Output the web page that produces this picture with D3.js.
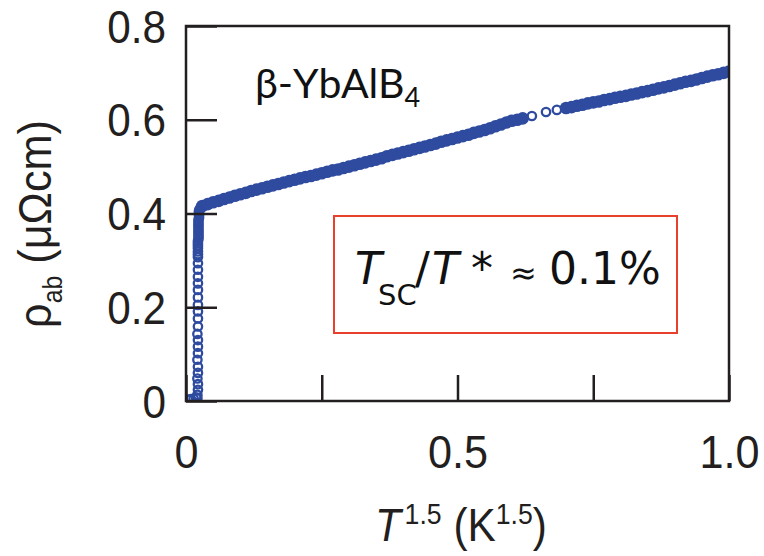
<!DOCTYPE html>
<html>
<head>
<meta charset="utf-8">
<script src="https://cdn.jsdelivr.net/npm/d3@7"></script>
<style>
  body { margin: 0; background: #fff; }
</style>
</head>
<body>
<div id="chart"></div>
<script>
// axis ticks
const xTicks = [0, 0.25, 0.5, 0.75, 1.0];
const xTickText = ["0", "", "0.5", "", "1.0"];
const yTicks = [0, 0.2, 0.4, 0.6, 0.8];
const yTickText = ["0", "0.2", "0.4", "0.6", "0.8"];

// superconducting drop: T^1.5 (K^1.5) and rho_ab (μΩcm)
const tDrop = [0.004, 0.009, 0.014, 0.019,
  0.021, 0.021, 0.022, 0.022, 0.021, 0.022, 0.022, 0.021, 0.022, 0.022,
  0.022, 0.021, 0.022, 0.022, 0.022, 0.022, 0.022, 0.022, 0.022, 0.022,
  0.022, 0.022, 0.022, 0.022, 0.022,
  0.022, 0.022, 0.022, 0.022, 0.023, 0.023, 0.023, 0.023, 0.023,
  0.023, 0.023, 0.023, 0.023, 0.024, 0.024, 0.024, 0.024, 0.024, 0.025, 0.027];
const rhoDrop = [0.003, 0.004, 0.005, 0.007,
  0.006, 0.013, 0.024, 0.036, 0.048, 0.060, 0.073, 0.088, 0.102, 0.116,
  0.130, 0.143, 0.159, 0.176, 0.191, 0.205, 0.221, 0.237, 0.251, 0.265,
  0.280, 0.294, 0.307, 0.313, 0.319,
  0.326, 0.331, 0.336, 0.341, 0.346, 0.351, 0.356, 0.361, 0.366,
  0.371, 0.376, 0.381, 0.386, 0.391, 0.396, 0.400, 0.403, 0.406, 0.409, 0.412];

// normal state, dense band
const tBand = [0.03, 0.04, 0.05, 0.06, 0.07, 0.08, 0.09, 0.10, 0.11, 0.12,
  0.13, 0.14, 0.15, 0.16, 0.17, 0.18, 0.19, 0.20, 0.21, 0.22,
  0.23, 0.24, 0.25, 0.26, 0.27, 0.28, 0.29, 0.30, 0.31, 0.32,
  0.33, 0.34, 0.35, 0.36, 0.37, 0.38, 0.39, 0.40, 0.41, 0.42,
  0.43, 0.44, 0.45, 0.46, 0.47, 0.48, 0.49, 0.50, 0.51, 0.52,
  0.53, 0.54, 0.55, 0.56, 0.57, 0.58, 0.59, 0.60, 0.61, 0.62,
  0.70, 0.71, 0.72, 0.73, 0.74, 0.75, 0.76, 0.77, 0.78, 0.79,
  0.80, 0.81, 0.82, 0.83, 0.84, 0.85, 0.86, 0.87, 0.88, 0.89,
  0.90, 0.91, 0.92, 0.93, 0.94, 0.95, 0.96, 0.97, 0.98, 0.99, 1.00];
const rhoBand = [0.416, 0.420, 0.424, 0.427, 0.431, 0.434, 0.438, 0.441, 0.444, 0.448,
  0.451, 0.454, 0.457, 0.460, 0.463, 0.466, 0.469, 0.472, 0.475, 0.478,
  0.480, 0.483, 0.486, 0.489, 0.492, 0.494, 0.497, 0.500, 0.503, 0.506,
  0.509, 0.512, 0.515, 0.518, 0.522, 0.525, 0.528, 0.531, 0.534, 0.537,
  0.540, 0.543, 0.546, 0.549, 0.553, 0.556, 0.559, 0.562, 0.565, 0.568,
  0.572, 0.575, 0.578, 0.582, 0.586, 0.590, 0.594, 0.598, 0.600, 0.603,
  0.625, 0.627, 0.630, 0.632, 0.635, 0.637, 0.639, 0.642, 0.644, 0.647,
  0.649, 0.651, 0.654, 0.656, 0.659, 0.661, 0.664, 0.667, 0.669, 0.672,
  0.675, 0.678, 0.681, 0.683, 0.686, 0.689, 0.692, 0.695, 0.697, 0.700, 0.703];

// sparse points in the gap of the band
const tGap = [0.637, 0.663, 0.683];
const rhoGap = [0.608, 0.6165, 0.621];

const width = 764, height = 556;
const margin = { top: 26, right: 35, bottom: 155, left: 186 };
const color = '#2f4b9f';

const svg = d3.select('#chart').append('svg')
  .attr('width', width)
  .attr('height', height)
  .style('font-family', '"Liberation Sans", Arial, sans-serif');

const x = d3.scaleLinear().domain([0, 1]).range([margin.left, width - margin.right]);
const y = d3.scaleLinear().domain([0, 0.8]).range([height - margin.bottom, margin.top]);

svg.append('clipPath').attr('id', 'plot-clip')
  .append('rect')
  .attr('x', x(0)).attr('y', y(0.8))
  .attr('width', x(1) - x(0)).attr('height', y(0) - y(0.8));

// data marks
const marks = svg.append('g').attr('clip-path', 'url(#plot-clip)');

const band = tBand.map((t, i) => ({ t, rho: rhoBand[i] }));
const drop = tDrop.map((t, i) => ({ t, rho: rhoDrop[i] }));
const gap = tGap.map((t, i) => ({ t, rho: rhoGap[i] }));

// the band is so dense that the open circles merge into a solid strip
marks.append('g').selectAll('circle')
  .data(band).enter().append('circle')
  .attr('cx', d => x(d.t))
  .attr('cy', d => y(d.rho))
  .attr('r', 6.3)
  .attr('fill', color);

marks.append('g').selectAll('circle')
  .data(drop.concat(gap)).enter().append('circle')
  .attr('cx', d => x(d.t))
  .attr('cy', d => y(d.rho))
  .attr('r', 4.2)
  .attr('fill', 'none')
  .attr('stroke', color)
  .attr('stroke-width', 2.3);

// axes, ticks pointing inward
const labelScale = 0.92;

const yAxis = svg.append('g')
  .attr('transform', `translate(${x(0)},0)`)
  .call(d3.axisLeft(y).tickValues(yTicks).tickSize(-31).tickPadding(0)
    .tickFormat((d, i) => yTickText[i]));

yAxis.selectAll('text')
  .attr('transform', `scale(${labelScale},1)`)
  .attr('x', -20 / labelScale)
  .attr('dy', '0.35em')
  .style('font-size', '46px')
  .attr('fill', '#231f20');

const xAxis = svg.append('g')
  .attr('transform', `translate(0,${y(0)})`)
  .call(d3.axisBottom(x).tickValues(xTicks).tickSize(-26).tickPadding(0)
    .tickFormat((d, i) => xTickText[i]));

xAxis.selectAll('text')
  .attr('transform', `scale(${labelScale},1)`)
  .attr('x', 0)
  .attr('y', 0)
  .attr('dy', 67)
  .style('font-size', '47px')
  .attr('fill', '#231f20');

svg.selectAll('.domain').remove();
svg.selectAll('.tick line').attr('stroke', '#231f20').attr('stroke-width', 2.5);

// frame
svg.append('rect')
  .attr('x', x(0)).attr('y', y(0.8))
  .attr('width', x(1) - x(0)).attr('height', y(0) - y(0.8))
  .attr('fill', 'none')
  .attr('stroke', '#231f20')
  .attr('stroke-width', 2.5);

// axis titles
const yTitle = svg.append('text')
  .attr('transform', `translate(51,224) rotate(-90) scale(${labelScale},1)`)
  .attr('text-anchor', 'middle')
  .style('font-size', '47px')
  .attr('fill', '#231f20');
yTitle.append('tspan').text('ρ');
yTitle.append('tspan').attr('dy', 11).style('font-size', '27px').text('ab');
yTitle.append('tspan').attr('dy', -11).text(' (μΩcm)');

const xTitle = svg.append('text')
  .attr('transform', `translate(461,541) scale(${labelScale},1)`)
  .attr('text-anchor', 'middle')
  .style('font-size', '46px')
  .attr('fill', '#231f20');
xTitle.append('tspan').style('font-style', 'italic').text('T');
xTitle.append('tspan').attr('dy', -17).attr('dx', 4).style('font-size', '29px').text('1.5');
xTitle.append('tspan').attr('dy', 17).text(' (K');
xTitle.append('tspan').attr('dy', -17).style('font-size', '29px').text('1.5');
xTitle.append('tspan').attr('dy', 17).text(')');

// compound label
const compound = svg.append('text')
  .attr('x', 255).attr('y', 98)
  .style('font-family', 'Lato, "Open Sans", sans-serif')
  .style('font-size', '41px')
  .attr('fill', '#111');
compound.append('tspan').text('β-YbAlB');
compound.append('tspan').attr('dy', 9).style('font-size', '27px').text('4');

// annotation box
svg.append('rect')
  .attr('x', 334).attr('y', 216)
  .attr('width', 343).attr('height', 117)
  .attr('fill', 'none')
  .attr('stroke', '#ea3f2a')
  .attr('stroke-width', 2);

const note = svg.append('text')
  .attr('y', 284)
  .style('font-family', '"DejaVu Sans", Verdana, sans-serif')
  .style('font-size', '44px')
  .attr('fill', '#111');
note.append('tspan').attr('x', 355).style('font-style', 'italic').text('T');
note.append('tspan').attr('x', 378).attr('dy', 21).style('font-size', '29px').text('SC');
note.append('tspan').attr('x', 415).attr('dy', -21).text('/');
note.append('tspan').attr('x', 432).style('font-style', 'italic').text('T');
note.append('tspan').attr('x', 471).text('*');
note.append('tspan').attr('x', 510).style('font-size', '32px').text('≈');
note.append('tspan').attr('x', 549).text('0.1%');
</script>
</body>
</html>
